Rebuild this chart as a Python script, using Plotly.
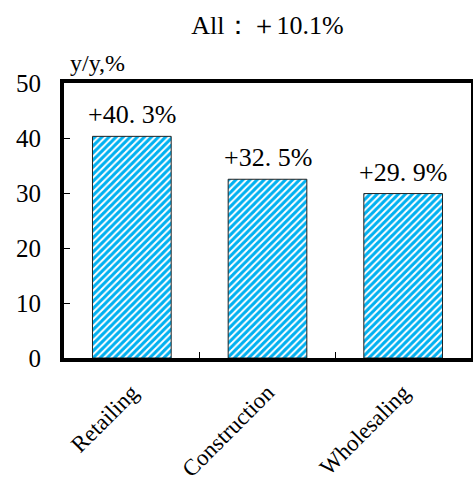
import plotly.graph_objects as go

# Year-on-year growth by sector
categories = ["Retailing", "Construction", "Wholesaling"]
growth = [40.3, 32.5, 29.9]
total_growth = 10.1
y_ticks = [0, 10, 20, 30, 40, 50]

serif = "Liberation Serif, Times New Roman, serif"
labels = [f"+{v:.1f}%".replace(".", ". ") for v in growth]

fig = go.Figure(
    go.Bar(
        x=categories,
        y=growth,
        width=0.58,
        marker=dict(
            color="white",
            line=dict(color="#222222", width=1),
            pattern=dict(shape="/", fgcolor="#00B0F0", bgcolor="white",
                         size=5, solidity=0.6, fillmode="replace"),
        ),
    )
)

# value labels above each bar
annotations = [
    dict(
        x=cat, y=val, xref="x", yref="y",
        text=lab, showarrow=False,
        xanchor="center", yanchor="bottom", yshift=5,
        font=dict(family=serif, size=26, color="black"),
    )
    for cat, val, lab in zip(categories, growth, labels)
]

annotations.append(
    dict(
        text="y/y,%",
        xref="paper", yref="paper",
        x=4 / 407, y=1 + 20 / 275,
        xanchor="left", yanchor="middle",
        showarrow=False,
        font=dict(family=serif, size=24, color="black"),
    )
)

fig.update_layout(
    width=473,
    height=487,
    margin=dict(l=64, r=2, t=83, b=129, autoexpand=False),
    paper_bgcolor="white",
    plot_bgcolor="white",
    showlegend=False,
    font=dict(family=serif, size=20, color="black"),
    title=dict(
        text=f"All：＋{total_growth}%",
        x=(64 + 471) / 2 / 473,
        xanchor="center",
        y=1 - 25 / 487,
        yanchor="middle",
        font=dict(family=serif, size=26, color="black"),
    ),
    annotations=annotations,
    bargap=0.42,
)

fig.update_xaxes(
    range=[-0.5, 2.5],
    automargin=False,
    showline=True, linewidth=4, linecolor="black", mirror=True,
    ticks="inside", tickson="boundaries", ticklen=6, tickwidth=1, tickcolor="black",
    tickangle=-45,
    ticklabelstandoff=8,
    tickfont=dict(family=serif, size=23, color="black"),
    showgrid=False,
)

fig.update_yaxes(
    range=[0, 50],
    tickvals=y_ticks,
    automargin=False,
    showline=True, linewidth=4, linecolor="black", mirror=True,
    ticks="inside", ticklen=6, tickwidth=1, tickcolor="black",
    ticklabelstandoff=14,
    tickfont=dict(family=serif, size=25, color="black"),
    showgrid=False, zeroline=False,
)

fig.write_html("out.html")
